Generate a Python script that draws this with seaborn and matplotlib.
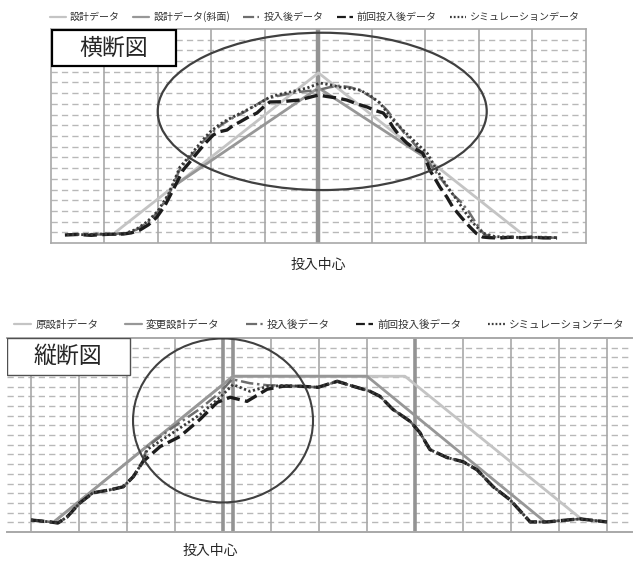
import matplotlib
matplotlib.use('Agg')
import matplotlib.pyplot as plt
from matplotlib.patches import Ellipse, Rectangle
import seaborn as sns

# ============================================================
# Data: 横断図 (cross section)
# ============================================================
top_design_x = [1.21, 5.0, 8.77]
top_design_y = [1.03, 15.9, 1.0]
top_slope_x = [2.37, 5.0, 7.03]
top_slope_y = [5.58, 14.5, 7.88]

top_after_x = [0.3, 0.6, 0.9, 1.2, 1.4, 1.6, 1.8, 2.0, 2.2, 2.4, 2.57, 2.73, 2.9, 3.05, 3.2,
               3.4, 3.6, 3.8, 4.0, 4.2, 4.4, 4.6, 4.8, 5.0, 5.2, 5.4, 5.6, 5.8, 6.0, 6.15,
               6.3, 6.45, 6.6, 6.75, 6.9, 7.05, 7.2, 7.35, 7.5, 7.65, 7.8, 7.95, 8.1, 8.3,
               8.6, 8.9, 9.2, 9.45]
top_after_y = [0.78, 0.82, 0.8, 0.85, 0.95, 1.25, 1.9, 2.9, 4.5, 6.8, 7.9, 8.8, 9.8, 10.5, 11.1,
               11.7, 12.2, 12.8, 13.4, 13.7, 13.9, 14.1, 14.2, 14.3, 14.55, 14.7, 14.55, 14.2, 13.6, 13.1,
               12.3, 11.3, 10.3, 9.5, 8.6, 7.6, 6.6, 5.6, 4.6, 3.9, 3.0, 1.8, 0.8, 0.55,
               0.5, 0.55, 0.5, 0.5]

top_prev_x = [0.26, 0.5, 0.75, 0.92, 1.1, 1.35, 1.5, 1.66, 1.82, 1.98, 2.13, 2.28, 2.47, 2.6,
              2.73, 2.88, 3.03, 3.15, 3.29, 3.41, 3.53, 3.7, 3.85, 3.97, 4.09, 4.3, 4.5, 4.65,
              4.82, 5.0, 5.15, 5.35, 5.53, 5.72, 5.91, 6.05, 6.21, 6.3, 6.39, 6.52, 6.65, 6.8,
              6.95, 7.02, 7.08, 7.18, 7.27, 7.4, 7.51, 7.67, 7.83, 7.95, 8.07, 8.2, 8.39, 8.6,
              8.8, 9.01, 9.2, 9.46]
top_prev_y = [0.75, 0.8, 0.72, 0.78, 0.82, 0.84, 0.95, 1.21, 1.7, 2.43, 3.5, 4.95, 6.82, 7.6,
              8.41, 9.3, 10.09, 10.4, 10.56, 11.0, 11.31, 11.8, 12.15, 12.7, 13.18, 13.2, 13.3, 13.36,
              13.6, 13.83, 13.7, 13.55, 13.36, 13.0, 12.71, 12.4, 12.15, 11.6, 10.84, 10.0, 9.35, 8.8,
              8.41, 7.6, 6.82, 6.0, 5.23, 4.3, 3.36, 2.4, 1.5, 0.9, 0.56, 0.5, 0.47, 0.55,
              0.5, 0.56, 0.48, 0.47]

top_sim_x = [0.3, 0.6, 0.9, 1.2, 1.4, 1.6, 1.8, 2.0, 2.2, 2.41, 2.57, 2.73, 2.85, 2.97, 3.13,
             3.29, 3.47, 3.66, 3.88, 4.09, 4.28, 4.47, 4.63, 4.79, 5.03, 5.2, 5.4, 5.58, 5.77,
             5.96, 6.15, 6.27, 6.39, 6.55, 6.71, 6.87, 7.03, 7.18, 7.33, 7.46, 7.59, 7.74, 7.89,
             8.07, 8.3, 8.6, 8.9, 9.2, 9.45]
top_sim_y = [0.8, 0.78, 0.85, 0.8, 0.9, 1.3, 2.0, 3.0, 4.6, 7.1, 8.0, 8.97, 9.7, 10.37, 11.0,
             11.5, 11.95, 12.43, 13.0, 13.64, 13.9, 14.11, 14.3, 14.49, 14.95, 14.8, 14.58, 14.45, 14.3,
             13.8, 13.08, 12.3, 11.5, 10.7, 9.91, 9.15, 8.41, 7.1, 5.89, 4.9, 4.02, 2.9, 1.87,
             0.93, 0.6, 0.55, 0.5, 0.55, 0.5]

# ============================================================
# Data: 縦断図 (longitudinal section)
# ============================================================
bot_orig_x = [0.5, 4.21, 7.79, 11.5]
bot_orig_y = [1.14, 16.06, 16.06, 1.2]
bot_chg_x = [0.5, 4.21, 7.0, 10.71]
bot_chg_y = [1.14, 16.06, 16.06, 1.04]

bot_prev_x = [0.0, 0.4, 0.56, 0.75, 1.02, 1.29, 1.65, 1.92, 2.13, 2.33, 2.69, 3.1, 3.52, 3.88,
              4.15, 4.5, 4.92, 5.25, 5.6, 5.98, 6.38, 6.71, 7.06, 7.27, 7.54, 7.9, 8.1, 8.31,
              8.67, 9.0, 9.29, 9.63, 9.98, 10.4, 10.75, 11.17, 11.44, 12.0]
bot_prev_y = [1.24, 1.04, 0.93, 1.55, 3.01, 4.04, 4.35, 4.66, 5.7, 7.25, 8.81, 9.84, 11.61, 13.37,
              13.89, 13.47, 14.72, 15.03, 15.03, 14.92, 15.54, 15.03, 14.51, 13.99, 12.64, 11.4, 10.26, 8.5,
              7.67, 7.25, 6.42, 4.66, 3.32, 1.04, 1.04, 1.24, 1.35, 1.04]

bot_after_x = [0.0, 0.4, 0.56, 0.75, 1.02, 1.29, 1.65, 1.92, 2.13, 2.33, 2.42, 2.9, 3.52, 3.94,
               4.19, 4.56, 4.92, 5.25, 5.6, 5.98, 6.38, 6.71, 7.06, 7.27, 7.54, 7.9, 8.1, 8.31,
               8.67, 9.0, 9.29, 9.63, 9.98, 10.4, 10.75, 11.17, 11.44, 12.0]
bot_after_y = [1.24, 1.04, 0.93, 1.55, 3.01, 4.04, 4.35, 4.66, 5.7, 7.25, 8.8, 10.6, 12.7, 14.4,
               15.75, 15.34, 15.13, 15.1, 15.03, 14.92, 15.5, 15.03, 14.51, 13.99, 12.64, 11.4, 10.26, 8.5,
               7.67, 7.25, 6.42, 4.66, 3.32, 1.04, 1.04, 1.24, 1.35, 1.04]

bot_sim_x = [0.0, 0.4, 0.56, 0.75, 1.02, 1.29, 1.65, 1.92, 2.13, 2.33, 2.42, 2.9, 3.52, 3.94,
             4.21, 4.56, 4.92, 5.25, 5.6, 5.98, 6.38, 6.71, 7.06, 7.27, 7.54, 7.9, 8.1, 8.31,
             8.67, 9.0, 9.29, 9.63, 9.98, 10.4, 10.75, 11.17, 11.44, 12.0]
bot_sim_y = [1.24, 1.04, 0.93, 1.55, 3.01, 4.04, 4.35, 4.66, 5.7, 7.25, 8.5, 10.05, 12.1, 13.9,
             15.2, 14.5, 15.0, 15.1, 15.03, 14.92, 15.54, 15.03, 14.51, 13.99, 12.64, 11.4, 10.26, 8.5,
             7.67, 7.25, 6.42, 4.66, 3.32, 1.04, 1.04, 1.24, 1.35, 1.04]

top_labels = ['設計データ', '設計データ(斜面)', '投入後データ', '前回投入後データ', 'シミュレーションデータ']
bot_labels = ['原設計データ', '変更設計データ', '投入後データ', '前回投入後データ', 'シミュレーションデータ']

# ============================================================
# Styling
# ============================================================
sns.set_style('white')
plt.rcParams['font.family'] = ['Noto Sans CJK JP', 'DejaVu Sans']

LIGHT = '#c4c4c4'
MID = '#979797'
GRID_V = '#a8a8a8'
GRID_H = '#b8b8b8'
CENTER = '#939393'

fig = plt.figure(figsize=(6.39, 5.64), dpi=100)
ax_top = fig.add_axes([0.0798, 0.5691, 0.8372, 0.3795])
ax_bot = fig.add_axes([0.011, 0.0567, 0.978, 0.344])


def draw_series(ax, xs, ys, labels):
    styles = [
        dict(color=LIGHT, lw=2.0, linestyle='-'),
        dict(color=MID, lw=2.0, linestyle='-'),
        dict(color='#6e6e6e', lw=1.8, linestyle=(0, (5, 1.5, 1, 1.5))),
        dict(color='#1c1c1c', lw=2.4, linestyle=(0, (4, 1.6))),
        dict(color='#3a3a3a', lw=2.0, linestyle=(0, (0.8, 0.9))),
    ]
    for i in range(5):
        sns.lineplot(x=xs[i], y=ys[i], ax=ax, sort=False, estimator=None,
                     label=labels[i], zorder=3 + i, **styles[i])
    if ax.get_legend() is not None:
        ax.get_legend().remove()


def grid_h(ax, x0, x1):
    for yv in range(1, 20):
        ax.plot([x0, x1], [yv, yv], color=GRID_H, lw=1.0,
                linestyle=(0, (4.5, 3)), zorder=1)


def add_legend(ax, center, fontsize, colspace):
    h, l = ax.get_legend_handles_labels()
    leg = fig.legend(h, l, loc='center', bbox_to_anchor=center, ncol=5, frameon=False,
                     fontsize=fontsize, handlelength=1.6, columnspacing=colspace,
                     handletextpad=0.4)
    for line in leg.get_lines():
        line.set_linewidth(min(line.get_linewidth(), 1.6))
    for t in leg.get_texts():
        t.set_color('#333333')


# ---------------- top panel ----------------
ax = ax_top
ax.set_xlim(0, 10)
ax.set_ylim(0, 20)
grid_h(ax, 0, 10)
for xv in range(1, 10):
    if xv == 5:
        ax.axvline(xv, color=CENTER, lw=3.2, zorder=2)
    else:
        ax.axvline(xv, color=GRID_V, lw=1.2, zorder=2)
draw_series(ax,
            [top_design_x, top_slope_x, top_after_x, top_prev_x, top_sim_x],
            [top_design_y, top_slope_y, top_after_y, top_prev_y, top_sim_y],
            top_labels)
ax.add_patch(Ellipse((5.07, 12.3), 6.15, 14.7, fill=False, edgecolor='#404040', lw=1.6, zorder=8))
for s in ax.spines.values():
    s.set_color(GRID_V)
    s.set_linewidth(1.2)
ax.set_xticks([])
ax.set_yticks([])
ax.set_xlabel('')
ax.set_ylabel('')
ax.add_patch(Rectangle((0.002, 0.827), 0.232, 0.168, transform=ax.transAxes,
                       facecolor='white', edgecolor='black', lw=1.6, zorder=10))
ax.text(0.118, 0.911, '横断図', transform=ax.transAxes, ha='center', va='center',
        fontsize=16.5, zorder=11)
add_legend(ax, (0.493, 0.97), 7.2, 1.35)
fig.text(0.4977, 0.53, '投入中心', ha='center', va='center', fontsize=10)

# ---------------- bottom panel ----------------
ax = ax_bot
ax.set_xlim(-0.5, 12.52)
ax.set_ylim(0, 20)
grid_h(ax, -0.5, 12.52)
for xv in range(0, 13):
    if xv in (4, 8):
        ax.axvline(xv, color=CENTER, lw=2.6, zorder=2)
    else:
        ax.axvline(xv, color=GRID_V, lw=1.2, zorder=2)
ax.axvline(4.21, color=CENTER, lw=2.6, zorder=2)
draw_series(ax,
            [bot_orig_x, bot_chg_x, bot_after_x, bot_prev_x, bot_sim_x],
            [bot_orig_y, bot_chg_y, bot_after_y, bot_prev_y, bot_sim_y],
            bot_labels)
ax.add_patch(Ellipse((4.0, 11.5), 3.75, 16.9, fill=False, edgecolor='#404040', lw=1.5, zorder=8))
for name, s in ax.spines.items():
    if name in ('left', 'right'):
        s.set_visible(False)
    else:
        s.set_color(GRID_V)
        s.set_linewidth(1.4)
ax.set_xticks([])
ax.set_yticks([])
ax.set_xlabel('')
ax.set_ylabel('')
ax.add_patch(Rectangle((0.0, 0.809), 0.197, 0.19, transform=ax.transAxes,
                       facecolor='white', edgecolor='#505050', lw=1.0, zorder=10))
ax.text(0.098, 0.904, '縦断図', transform=ax.transAxes, ha='center', va='center',
        fontsize=16.5, zorder=11)
add_legend(ax, (0.5, 0.424), 7.6, 2.5)
fig.text(0.3286, 0.023, '投入中心', ha='center', va='center', fontsize=10)

fig.savefig('out.png', dpi=100)
